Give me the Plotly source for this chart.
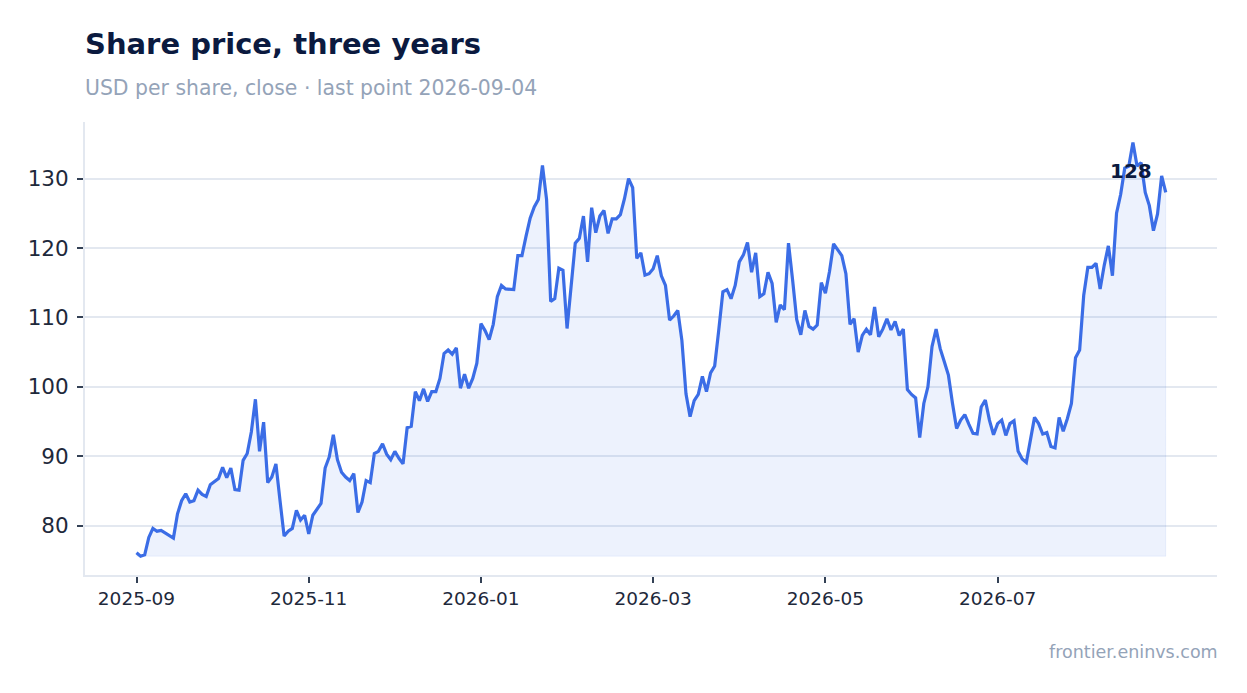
import plotly.graph_objects as go

# daily closes, one per trading day, 2025-09 .. 2026-09-04
PRICES = [
    76.1, 75.6, 75.8, 78.3, 79.6, 79.2, 79.3, 78.9, 78.6, 78.2,
    81.7, 83.6, 84.6, 83.4, 83.6, 85.1, 84.5, 84.2, 85.9, 86.3,
    86.8, 88.4, 86.9, 88.3, 85.2, 85.1, 89.4, 90.4, 93.5, 98.2,
    90.7, 94.9, 86.2, 87.0, 88.9, 83.6, 78.5, 79.2, 79.6, 82.2,
    80.8, 81.5, 78.8, 81.5, 82.4, 83.2, 88.3, 89.9, 93.1, 89.5,
    87.7, 87.0, 86.5, 87.5, 81.9, 83.4, 86.5, 86.2, 90.4, 90.7,
    91.8, 90.3, 89.5, 90.7, 89.7, 88.9, 94.1, 94.3, 99.3, 98.0,
    99.7, 97.9, 99.3, 99.3, 101.2, 104.8, 105.3, 104.7, 105.6, 99.8,
    101.8, 99.8, 101.2, 103.4, 109.1, 108.1, 106.8, 109.0, 113.0, 114.6,
    114.1, 114.1, 114.0, 118.9, 118.9, 121.7, 124.3, 125.9, 127.0, 131.9,
    127.0, 112.3, 112.7, 117.1, 116.8, 108.4, 114.4, 120.7, 121.4, 124.6,
    118.0, 125.8, 122.2, 124.6, 125.4, 122.1, 124.2, 124.2, 124.8, 127.1,
    130.0, 128.7, 118.5, 119.3, 116.1, 116.3, 117.0, 118.9, 116.0, 114.6,
    109.6, 110.2, 111.0, 106.7, 99.0, 95.7, 98.0, 98.9, 101.5, 99.3,
    102.0, 103.0, 108.2, 113.7, 114.0, 112.7, 114.6, 118.0, 119.0, 120.8,
    116.5, 119.3, 113.0, 113.4, 116.5, 114.9, 109.3, 111.8, 111.1, 120.7,
    115.4, 109.7, 107.5, 111.0, 108.7, 108.3, 108.9, 115.0, 113.5, 116.6,
    120.6, 119.7, 118.9, 116.3, 109.0, 109.8, 105.0, 107.4, 108.3, 107.5,
    111.5, 107.2, 108.3, 109.8, 108.2, 109.4, 107.4, 108.3, 99.6, 98.9,
    98.4, 92.7, 97.6, 100.0, 105.8, 108.3, 105.5, 103.6, 101.7, 97.6,
    94.0, 95.2, 96.0, 94.6, 93.3, 93.2, 97.1, 98.1, 95.2, 93.1,
    94.7, 95.2, 93.0, 94.7, 95.1, 90.7, 89.6, 89.1, 92.3, 95.6,
    94.7, 93.2, 93.4, 91.4, 91.2, 95.6, 93.6, 95.4, 97.6, 104.2,
    105.3, 113.2, 117.2, 117.2, 117.8, 114.1, 117.5, 120.3, 116.0, 125.0,
    127.7, 131.5, 131.8, 135.2, 131.8, 132.3, 128.0, 126.1, 122.5, 124.9,
    130.4, 128.0,
]

MONTH_LABELS = ["2025-09", "2025-11", "2026-01", "2026-03", "2026-05", "2026-07"]
DAYS_PER_TICK = 42  # two months of trading days

TITLE = "Share price, three years"
SUBTITLE = "USD per share, close · last point 2026-09-04"
SOURCE = "frontier.eninvs.com"

LINE_COLOR = "#3b6de6"
FILL_COLOR = "rgba(59,109,230,0.09)"
NAVY = "#0b1a3f"
MUTED = "#94a3b8"
GRID = "#e3e8f0"
FONT = "DejaVu Sans"


def make_figure():
    days = list(range(len(PRICES)))
    floor = min(PRICES)

    fig = go.Figure()

    # shaded area down to the lowest close
    fig.add_trace(
        go.Scatter(
            x=days + days[::-1],
            y=PRICES + [floor] * len(days),
            fill="toself",
            fillcolor=FILL_COLOR,
            line=dict(color="rgba(59,109,230,0.08)", width=1),
            hoverinfo="skip",
            showlegend=False,
        )
    )

    fig.add_trace(
        go.Scatter(
            x=days,
            y=PRICES,
            mode="lines",
            line=dict(color=LINE_COLOR, width=3.2),
            hovertemplate="Price: %{y:.2f}<extra></extra>",
            showlegend=False,
        )
    )

    last = PRICES[-1]
    fig.add_annotation(
        x=days[-1],
        y=last,
        text=f"{last:.0f}",
        showarrow=False,
        xanchor="right",
        yanchor="middle",
        xshift=-12,
        yshift=21,
        font=dict(family=FONT, size=20, color=NAVY, weight="bold"),
    )

    # title + subtitle + source
    fig.add_annotation(
        xref="paper", yref="paper", x=0, y=1.173, xshift=-2,
        text=TITLE, showarrow=False, xanchor="left", yanchor="middle",
        font=dict(family=FONT, size=29, color=NAVY, weight="bold"),
    )
    fig.add_annotation(
        xref="paper", yref="paper", x=0, y=1.0756, xshift=-2,
        text=SUBTITLE, showarrow=False, xanchor="left", yanchor="middle",
        font=dict(family=FONT, size=20.4, color=MUTED),
    )
    fig.add_annotation(
        xref="paper", yref="paper", x=1, y=-0.17, xshift=3,
        text=SOURCE, showarrow=False, xanchor="right", yanchor="middle",
        font=dict(family=FONT, size=17.5, color=MUTED),
    )

    fig.update_xaxes(
        range=[-12.56, 263.5],
        tickvals=[i * DAYS_PER_TICK for i in range(len(MONTH_LABELS))],
        ticktext=MONTH_LABELS,
        ticks="outside",
        ticklen=6,
        tickwidth=2,
        tickcolor="#334155",
        tickfont=dict(family=FONT, size=18.5, color="#1e293b"),
        showgrid=False,
        showline=True,
        linecolor=GRID,
        linewidth=2,
        zeroline=False,
    )

    fig.update_yaxes(
        range=[72.89, 138.15],
        dtick=10,
        ticks="outside",
        ticklen=6,
        tickwidth=2,
        tickcolor="#334155",
        ticklabelstandoff=4,
        tickfont=dict(family=FONT, size=21.5, color="#1e293b"),
        showgrid=True,
        gridcolor=GRID,
        gridwidth=2,
        showline=True,
        linecolor=GRID,
        linewidth=2,
        zeroline=False,
    )

    # the page adds an 8px body margin, so margins are trimmed to match
    fig.update_layout(
        width=1247,
        height=693,
        margin=dict(l=77, r=38, t=114, b=126),
        paper_bgcolor="white",
        plot_bgcolor="white",
        font=dict(family=FONT, color="#1e293b"),
        showlegend=False,
    )
    return fig


fig = make_figure()
fig.write_html("out.html")
